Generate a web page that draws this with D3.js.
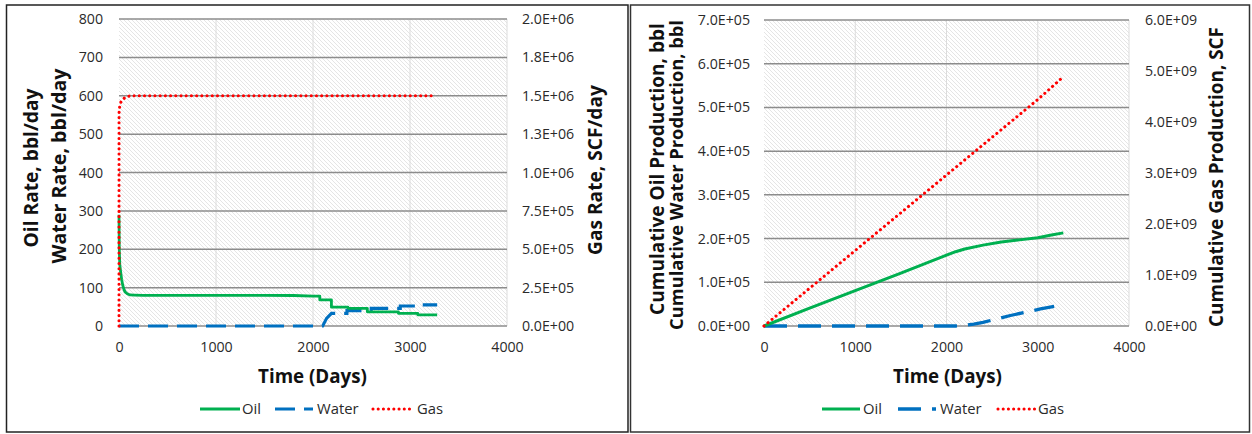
<!DOCTYPE html>
<html><head><meta charset="utf-8">
<script src="https://cdn.jsdelivr.net/npm/d3@7"></script>
<style>html,body{margin:0;padding:0;background:#fff;}svg{display:block;}</style>
</head><body>
<svg id="c" width="1252" height="434"></svg>
<script>
// ---------------- DATA ----------------
const timeTicks = [0, 1000, 2000, 3000, 4000];
const rateTicks = [0, 100, 200, 300, 400, 500, 600, 700, 800];
const gasRateTicks = [0, 2.5e5, 5e5, 7.5e5, 1e6, 1.25e6, 1.5e6, 1.75e6, 2e6];
const cumLiqTicks = [0, 1e5, 2e5, 3e5, 4e5, 5e5, 6e5, 7e5];
const cumGasTicks = [0, 1e9, 2e9, 3e9, 4e9, 5e9, 6e9];

const oilRateTime = [0, 3, 8, 17, 27, 38, 50, 62, 85, 113, 160, 250, 500, 1000, 1500, 1800, 2000, 2070, 2070, 2190, 2190, 2360, 2360, 2560, 2560, 2880, 2880, 3080, 3080, 3280];
const oilRate     = [290, 200, 160, 141, 122, 107, 96, 89, 84, 81, 80.5, 80, 80, 80, 80, 79.5, 78, 78, 68, 68, 49, 49, 46, 46, 37, 37, 33, 33, 29, 29];

const waterRateTime = [0, 2100, 2140, 2190, 2350, 2350, 2600, 2600, 2900, 2900, 3130, 3130, 3280];
const waterRate     = [0, 0, 20, 33, 33, 40, 40, 46, 46, 52, 52, 55, 55];

const gasRateTime = [0, 0.5, 5, 10, 20, 38, 55, 72, 100, 130, 3270];
const gasRate     = [0, 1.385e6, 1.42e6, 1.44e6, 1.46e6, 1.47e6, 1.485e6, 1.49e6, 1.497e6, 1.5e6, 1.5e6];

const cumOilTime = [0, 500, 1000, 1500, 2000, 2100, 2200, 2400, 2600, 2800, 3000, 3150, 3280];
const cumOil     = [0, 4.1e4, 8.1e4, 1.21e5, 1.62e5, 1.70e5, 1.76e5, 1.85e5, 1.92e5, 1.97e5, 2.02e5, 2.08e5, 2.13e5];

const cumWaterTime = [0, 2100, 2200, 2300, 2400, 2550, 2700, 2880, 3030, 3180];
const cumWater     = [0, 0, 1.5e3, 4.5e3, 8.5e3, 1.6e4, 2.4e4, 3.2e4, 3.9e4, 4.5e4];

const cumGasTime = [0, 1000, 2000, 3000, 3270];
const cumGas     = [0, 1.48e9, 2.96e9, 4.44e9, 4.87e9];

const seriesNames = ["Oil", "Water", "Gas"];

// ---------------- STYLE ----------------
const FONT = "'Open Sans', 'Noto Sans', sans-serif";
const GREEN = "#00B050", BLUE = "#0070C0", RED = "#FF0000";
const TICK_FS = 14.2;
const DOTS = "0.01,5.2";

const svg = d3.select("#c");
const defs = svg.append("defs");
const pat = defs.append("pattern").attr("id", "hatch")
  .attr("patternUnits", "userSpaceOnUse").attr("width", 4).attr("height", 4);
pat.append("rect").attr("width", 4).attr("height", 4).attr("fill", "#fff");
pat.append("path").attr("d", "M-1,-1L5,5M-1,3L1,5M3,-1L5,1")
  .attr("stroke", "#dedede").attr("stroke-width", 0.8);

// panel frames
svg.append("rect").attr("x", 6.5).attr("y", 5).attr("width", 621.5).attr("height", 427)
  .attr("fill", "none").attr("stroke", "#222").attr("stroke-width", 1.5);
svg.append("rect").attr("x", 630.5).attr("y", 5).attr("width", 619).attr("height", 427)
  .attr("fill", "none").attr("stroke", "#333").attr("stroke-width", 1.5);

function sci(v) {
  if (v === 0) return "0.0E+00";
  let e = Math.floor(Math.log10(v));
  let m = v / Math.pow(10, e);
  let ms = m.toFixed(1);
  if (parseFloat(ms) >= 10) { e += 1; ms = (v / Math.pow(10, e)).toFixed(1); }
  return ms + "E+" + String(e).padStart(2, "0");
}

function fit(sel, target) {
  const len = sel.node().getComputedTextLength();
  const fs = parseFloat(sel.attr("font-size"));
  sel.attr("font-size", fs * target / len);
}

function zip(xs, ys) { return xs.map((x, i) => [x, ys[i]]); }

function chart(cfg) {
  const g = svg.append("g");
  const x = d3.scaleLinear().domain([0, 4000]).range([cfg.x0, cfg.x1]);
  const yl = d3.scaleLinear().domain(cfg.lDomain).range([cfg.yb, cfg.yt]);
  const yr = d3.scaleLinear().domain(cfg.rDomain).range([cfg.yb, cfg.yt]);

  // plot area hatch
  g.append("rect").attr("x", cfg.x0).attr("y", cfg.yt)
    .attr("width", cfg.x1 - cfg.x0).attr("height", cfg.yb - cfg.yt)
    .attr("fill", "url(#hatch)");
  // vertical faint grid
  g.selectAll(".vg").data(timeTicks.slice(1)).join("line")
    .attr("x1", d => x(d)).attr("x2", d => x(d))
    .attr("y1", cfg.yt).attr("y2", cfg.yb)
    .attr("stroke", "#dcdcdc").attr("stroke-width", 1);
  // horizontal grid
  g.selectAll(".hg").data(cfg.lTicks).join("line")
    .attr("x1", cfg.x0).attr("x2", cfg.x1)
    .attr("y1", d => yl(d)).attr("y2", d => yl(d))
    .attr("stroke", "#8c8c8c").attr("stroke-width", 1.5);

  // axes
  const styleAxis = a => {
    a.select(".domain").remove();
    a.selectAll("line").remove();
    a.selectAll("text").attr("font-family", FONT).attr("font-size", TICK_FS).attr("fill", "#2a2a2a");
  };
  g.append("g").attr("transform", `translate(${cfg.x0},0)`)
    .call(d3.axisLeft(yl).tickValues(cfg.lTicks).tickSize(0).tickPadding(cfg.lPad).tickFormat(cfg.lFmt))
    .call(styleAxis);
  g.append("g").attr("transform", `translate(${cfg.x1},0)`)
    .call(d3.axisRight(yr).tickValues(cfg.rTicks).tickSize(0).tickPadding(cfg.rPad).tickFormat(sci))
    .call(styleAxis);
  g.append("g").attr("transform", `translate(0,${cfg.yb})`)
    .call(d3.axisBottom(x).tickValues(timeTicks).tickSize(0).tickPadding(16).tickFormat(d3.format("d")))
    .call(styleAxis);

  // series
  const lineL = d3.line().x(d => x(d[0])).y(d => yl(d[1]));
  const lineR = d3.line().x(d => x(d[0])).y(d => yr(d[1]));
  g.append("path").datum(cfg.water).attr("d", lineL).attr("fill", "none")
    .attr("stroke", BLUE).attr("stroke-width", cfg.lw + 0.3).attr("stroke-dasharray", cfg.dash);
  g.append("path").datum(cfg.oil).attr("d", lineL).attr("fill", "none")
    .attr("stroke", GREEN).attr("stroke-width", cfg.lw).attr("stroke-linejoin", "round");
  g.append("path").datum(cfg.gas).attr("d", lineR).attr("fill", "none")
    .attr("stroke", RED).attr("stroke-width", 3.1).attr("stroke-linecap", "round")
    .attr("stroke-dasharray", DOTS);

  // titles
  const bold = (t) => g.append("text").text(t).attr("font-family", FONT)
    .attr("font-weight", "bold").attr("font-size", 18).attr("fill", "#111");
  cfg.lTitles.forEach(tt => {
    const s = bold(tt.t).attr("text-anchor", "middle").attr("dominant-baseline", "central")
      .attr("transform", `translate(${tt.x},${tt.y}) rotate(-90)`);
    fit(s, tt.len);
  });
  const rt = bold(cfg.rTitle.t).attr("text-anchor", "middle").attr("dominant-baseline", "central")
    .attr("transform", `translate(${cfg.rTitle.x},${cfg.rTitle.y}) rotate(-90)`);
  fit(rt, cfg.rTitle.len);
  const xt = bold("Time (Days)").attr("text-anchor", "middle")
    .attr("x", cfg.xTitle.x).attr("y", 383);
  fit(xt, 109);

  // legend
  const ly = 409;
  const L = cfg.legend;
  const strokes = [
    { c: GREEN, w: cfg.lw, da: null, cap: "butt" },
    { c: BLUE, w: cfg.lw + 0.3, da: cfg.dash, cap: "butt" },
    { c: RED, w: 3.1, da: DOTS, cap: "round" }
  ];
  seriesNames.forEach((nm, i) => {
    const it = L[i];
    g.append("line").attr("x1", it[0]).attr("x2", it[1]).attr("y1", ly).attr("y2", ly)
      .attr("stroke", strokes[i].c).attr("stroke-width", strokes[i].w)
      .attr("stroke-dasharray", strokes[i].da).attr("stroke-linecap", strokes[i].cap);
    g.append("text").text(nm).attr("x", it[2]).attr("y", ly + 5)
      .attr("font-family", FONT).attr("font-size", 14.8).attr("fill", "#2a2a2a");
  });
}

// Left: rates
chart({
  x0: 119, x1: 507, yt: 19, yb: 326,
  lDomain: [0, 800], rDomain: [0, 2e6],
  lTicks: rateTicks, rTicks: gasRateTicks,
  lFmt: d3.format("d"), lPad: 16, rPad: 15,
  oil: zip(oilRateTime, oilRate),
  water: zip(waterRateTime, waterRate),
  gas: zip(gasRateTime, gasRate),
  lw: 2.8, dash: "20,9",
  lTitles: [
    { t: "Oil Rate, bbl/day", x: 31, y: 168, len: 159 },
    { t: "Water Rate, bbl/day", x: 58, y: 166, len: 195 }
  ],
  rTitle: { t: "Gas Rate, SCF/day", x: 595, y: 170, len: 170 },
  xTitle: { x: 312.5 },
  legend: [[200, 240, 242], [275, 313, 317], [373, 413, 417]]
});

// Right: cumulative
chart({
  x0: 764, x1: 1129, yt: 20, yb: 326,
  lDomain: [0, 7e5], rDomain: [0, 6e9],
  lTicks: cumLiqTicks, rTicks: cumGasTicks,
  lFmt: sci, lPad: 14, rPad: 16,
  oil: zip(cumOilTime, cumOil),
  water: zip(cumWaterTime, cumWater),
  gas: zip(cumGasTime, cumGas),
  lw: 3, dash: "23,11",
  lTitles: [
    { t: "Cumulative Oil Production, bbl", x: 657, y: 169, len: 292 },
    { t: "Cumulative Water Production, bbl", x: 675, y: 175, len: 310 }
  ],
  rTitle: { t: "Cumulative Gas Production, SCF", x: 1216, y: 177, len: 300 },
  xTitle: { x: 947.5 },
  legend: [[822, 860, 863], [898, 936, 940], [998, 1035, 1038]]
});
</script>
</body></html>
